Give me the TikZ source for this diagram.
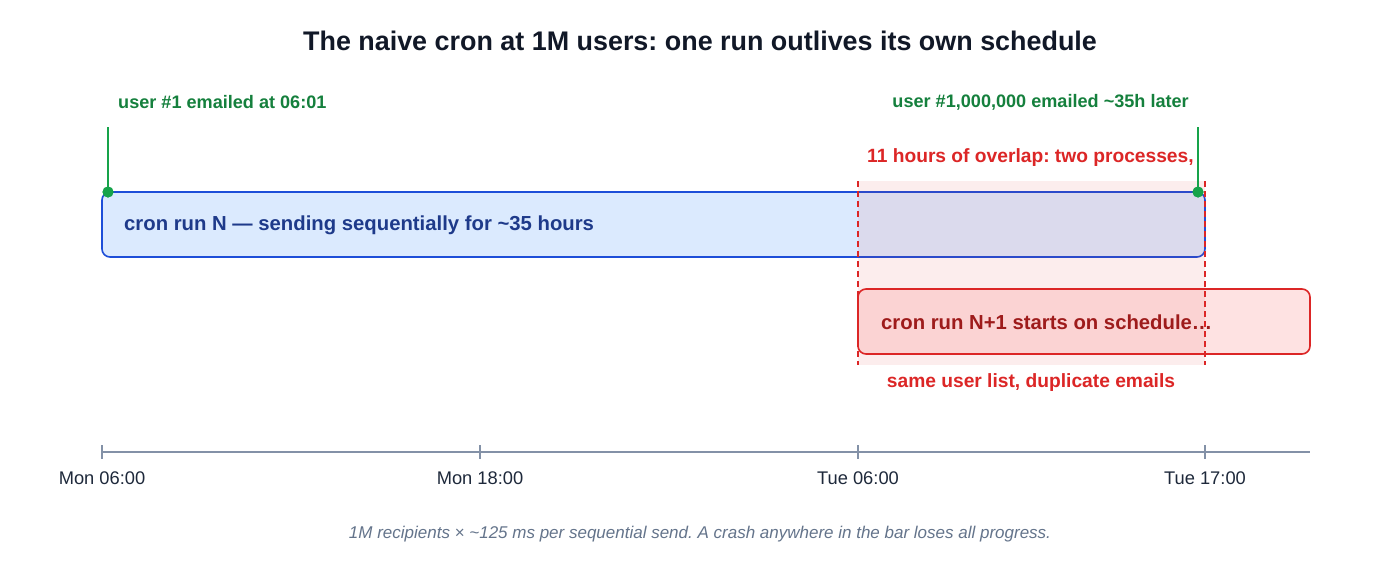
\documentclass[tikz,border=0pt]{standalone}
\usepackage{fontspec}
\setmainfont{Liberation Sans}
\frenchspacing
\definecolor{titlec}{HTML}{111827}
\definecolor{greenc}{HTML}{15803D}
\definecolor{greenl}{HTML}{16A34A}
\definecolor{bluefill}{HTML}{DBEAFE}
\definecolor{blueline}{HTML}{1D4ED8}
\definecolor{bluetext}{HTML}{1E3A8A}
\definecolor{redc}{HTML}{DC2626}
\definecolor{redfill}{HTML}{FEE2E2}
\definecolor{redtext}{HTML}{991B1B}
\definecolor{axisc}{HTML}{8391A7}
\definecolor{ticktext}{HTML}{1E293B}
\definecolor{capc}{HTML}{64748B}
\begin{document}
\begin{tikzpicture}[x=1pt,y=-1pt,
  every node/.style={inner sep=0pt},
  title/.style={font=\fontsize{26.9}{32}\selectfont\bfseries, text=titlec},
  glabel/.style={font=\fontsize{18.1}{22}\selectfont\bfseries, text=greenc},
  rlabel/.style={font=\fontsize{19.2}{23}\selectfont\bfseries, text=redc},
  bartext/.style={font=\fontsize{20.3}{24}\selectfont\bfseries},
  ticklabel/.style={font=\fontsize{18.3}{22}\selectfont, text=ticktext},
  caption/.style={font=\fontsize{17}{20}\selectfont\itshape, text=capc},
  marker/.style={draw=greenl, line width=2pt},
  dot/.style={circle, fill=greenl, inner sep=0pt, minimum size=11pt},
  tickline/.style={draw=axisc, line width=2pt},
]
\useasboundingbox (0,0) rectangle (1400,565);
\fill[white] (0,0) rectangle (1400,565);

\node[title] (title) at (700,41) {The naive cron at 1M users: one run outlives its own schedule};

% bars
\draw[blueline, fill=bluefill, line width=1.6pt, rounded corners=8pt] (102,192) rectangle (1205,257);
\node[bartext, text=bluetext, anchor=west] (barN) at (124,225) {cron run N — sending sequentially for \textasciitilde35 hours};
\draw[redc, fill=redfill, line width=1.6pt, rounded corners=8pt] (858,289) rectangle (1310,354);
\node[bartext, text=redtext, anchor=west] (barN1) at (881,322) {cron run N+1 starts on schedule…};

% overlap shading
\fill[redc, fill opacity=0.08] (858,181) rectangle (1205,365);
\coordinate (ovTL) at (858,181);
\coordinate (ovBL) at (858,365);
\coordinate (ovTR) at (1205,181);
\coordinate (ovBR) at (1205,365);
\draw[redc, line width=1.6pt, dash pattern=on 6pt off 4pt] (ovTL) -- (ovBL);
\draw[redc, line width=1.6pt, dash pattern=on 6pt off 4pt] (ovTR) -- (ovBR);

\node[rlabel, anchor=west] (ovtop) at (867,158) {11 hours of overlap: two processes,};
\node[rlabel] (ovbot) at (1031,383) {same user list, duplicate emails};

% green markers
\node[glabel, anchor=west] (u1) at (118,102) {user \#1 emailed at 06:01};
\node[glabel, anchor=east] (u2) at (1189,102) {user \#1,000,000 emailed \textasciitilde35h later};
\coordinate (m1top) at (108,127);
\coordinate (m2top) at (1198,127);
\node[dot] (d1) at (108,192) {};
\node[dot] (d2) at (1198,192) {};
\draw[marker] (m1top) -- (d1.center);
\draw[marker] (m2top) -- (d2.center);
\node[dot] at (108,192) {};
\node[dot] at (1198,192) {};

% axis
\coordinate (ax0) at (102,452);
\coordinate (ax1) at (1310,452);
\draw[tickline] (ax0) -- (ax1);
\foreach \x/\lab/\nm in {102/Mon 06:00/t0, 480/Mon 18:00/t1, 858/Tue 06:00/t2, 1205/Tue 17:00/t3}{
  \draw[tickline] (\x,445) -- (\x,459);
  \node[ticklabel] (\nm) at (\x,478) {\lab};
}

\node[caption] (cap) at (700,534) {1M recipients × \textasciitilde125 ms per sequential send. A crash anywhere in the bar loses all progress.};
\end{tikzpicture}
\end{document}
